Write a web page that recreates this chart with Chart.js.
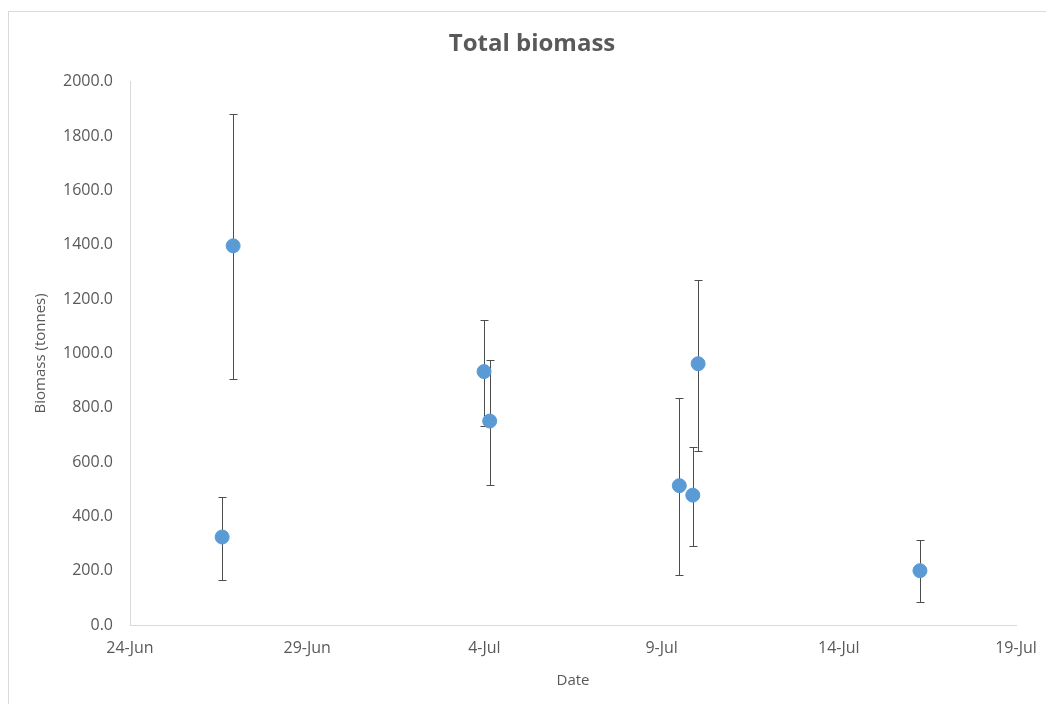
<!DOCTYPE html>
<html>
<head>
<meta charset="utf-8">
<script src="https://cdn.jsdelivr.net/npm/chart.js@4/dist/chart.umd.min.js"></script>
<style>
  html, body { margin: 0; padding: 0; background: #fff; }
  #wrap { width: 1046px; height: 704px; }
</style>
</head>
<body>
<div id="wrap"><canvas id="chart" width="1046" height="704"></canvas></div>
<script>
// ── Data ──────────────────────────────────────────────
// x values are days after 24-Jun
const sampleDays = [2.91, 2.6, 9.99, 10.15, 15.5, 15.88, 16.03, 22.29];
const biomass    = [1396, 324, 933, 751, 513, 478, 962, 200];
const errLow     = [906, 166, 733, 516, 184, 292, 642, 85];
const errHigh    = [1882, 471, 1123, 976, 837, 654, 1272, 313];
const dateLabels = ['24-Jun', '29-Jun', '4-Jul', '9-Jul', '14-Jul', '19-Jul'];

const textCol = '#595959';
const lineCol = '#d9d9d9';
const font    = 'Open Sans, Noto Sans, sans-serif';

const points = sampleDays.map(function(d, i) { return { x: d, y: biomass[i] }; });

// error bars from the scales
const errorBars = {
  id: 'errorBars',
  beforeDatasetsDraw: function(chart) {
    const ctx = chart.ctx;
    const xs = chart.scales.x, ys = chart.scales.y;
    ctx.save();
    ctx.strokeStyle = '#4d4d4d';
    ctx.lineWidth = 1;
    sampleDays.forEach(function(d, i) {
      const px = Math.round(xs.getPixelForValue(d)) + 0.5;
      const top = Math.round(ys.getPixelForValue(errHigh[i])) + 0.5;
      const bot = Math.round(ys.getPixelForValue(errLow[i])) + 0.5;
      ctx.beginPath();
      ctx.moveTo(px, top); ctx.lineTo(px, bot);
      ctx.moveTo(px - 4, top); ctx.lineTo(px + 4, top);
      ctx.moveTo(px - 4, bot); ctx.lineTo(px + 4, bot);
      ctx.stroke();
    });
    ctx.restore();
  }
};

// outer chart frame + nudge the title to sit where the original has it
const frame = {
  id: 'frame',
  afterLayout: function(chart) {
    const t = chart.titleBlock;
    if (t) { t.left += 19; t.right += 19; }
  },
  beforeDraw: function(chart) {
    const ctx = chart.ctx;
    ctx.save();
    ctx.fillStyle = '#fff';
    ctx.fillRect(0, 0, chart.width, chart.height);
    ctx.strokeStyle = lineCol;
    ctx.lineWidth = 1;
    ctx.strokeRect(8.5, 11.5, 1200, 900);
    ctx.restore();
  }
};

new Chart(document.getElementById('chart'), {
  type: 'scatter',
  data: {
    datasets: [{
      label: 'Total biomass',
      data: points,
      backgroundColor: '#5b9bd5',
      borderColor: '#5b9bd5',
      pointRadius: 7,
      pointHoverRadius: 7,
    }]
  },
  plugins: [frame, errorBars],
  options: {
    responsive: false,
    animation: false,
    layout: { padding: { left: 10, right: 30, top: 0, bottom: 10 } },
    plugins: {
      legend: { display: false },
      tooltip: { enabled: false },
      title: {
        display: true,
        text: 'Total biomass',
        color: textCol,
        font: { family: font, size: 24, weight: 'bold' },
        padding: { top: 30, bottom: 23 },
      },
    },
    scales: {
      x: {
        type: 'linear',
        min: 0,
        max: 25,
        ticks: {
          stepSize: 5,
          color: textCol,
          font: { family: font, size: 16 },
          padding: 14,
          maxRotation: 0,
          callback: function(v) { return dateLabels[Math.round(v / 5)]; },
        },
        grid: { display: false, drawTicks: false },
        border: { color: lineCol, width: 1 },
        title: {
          display: true,
          text: 'Date',
          color: textCol,
          font: { family: font, size: 15 },
          padding: { top: 2 },
        },
        afterFit: function(s) {
          s.height = 704 - 625 - 10;
          s.paddingLeft = 0;
          s.paddingRight = 0;
        },
      },
      y: {
        min: 0,
        max: 2000,
        ticks: {
          stepSize: 200,
          color: textCol,
          font: { family: font, size: 16 },
          padding: 17,
          callback: function(v) { return v.toFixed(1); },
        },
        grid: { display: false, drawTicks: false },
        border: { color: lineCol, width: 1 },
        title: {
          display: true,
          text: 'Biomass (tonnes)',
          color: textCol,
          font: { family: font, size: 15 },
          padding: { top: 22 },
        },
        afterFit: function(s) { s.width = 120; },
      },
    },
  },
});
</script>
</body>
</html>
